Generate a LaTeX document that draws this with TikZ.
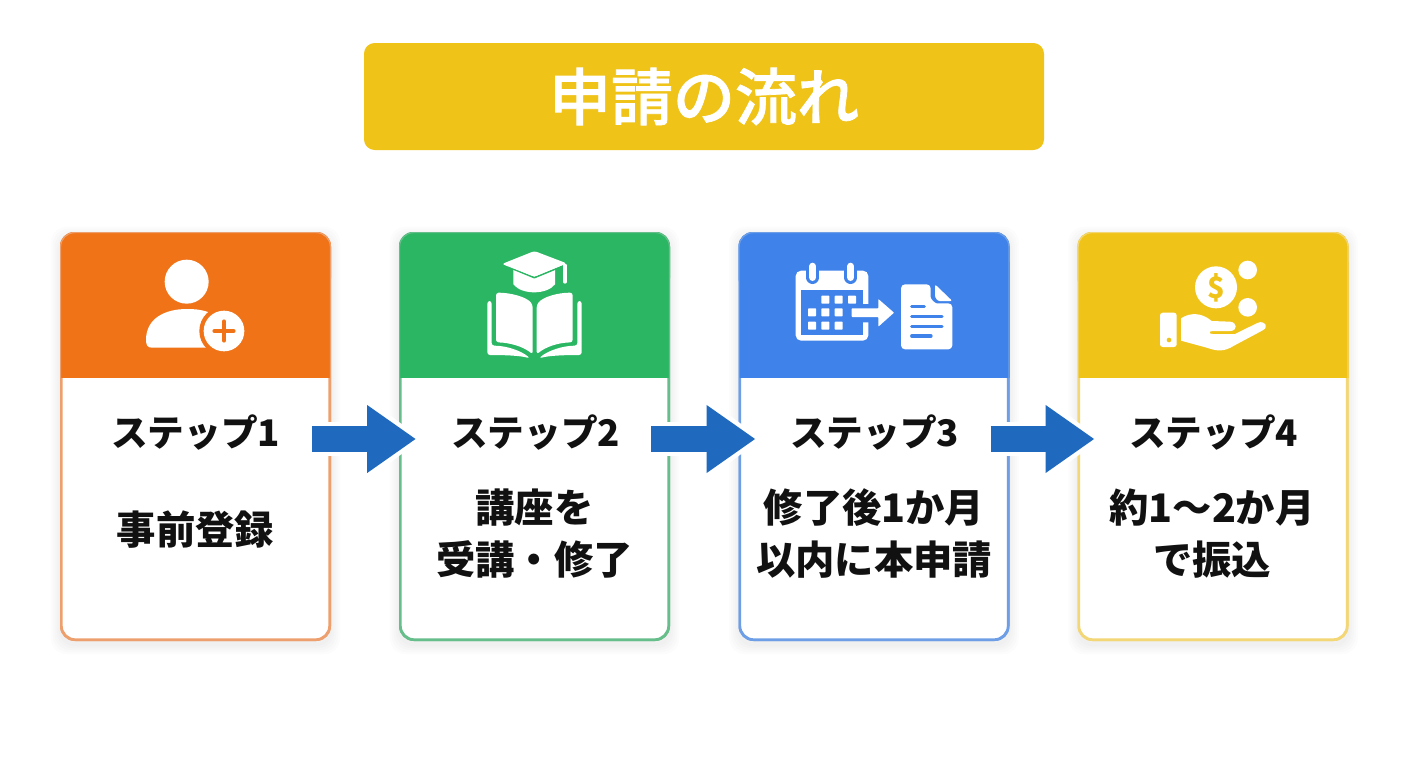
\documentclass[tikz,border=0pt]{standalone}
\usepackage{fontspec}
\setmainfont{Noto Sans CJK JP}
\newfontfamily\titlejp[FakeBold=1.2]{Noto Sans CJK JP Medium}
\usetikzlibrary{arrows.meta,calc}
\definecolor{cOr}{HTML}{F07318}
\definecolor{cGr}{HTML}{2AB663}
\definecolor{cBl}{HTML}{3F83EA}
\definecolor{cYe}{HTML}{F0C319}
\definecolor{bOr}{HTML}{EDA06E}
\definecolor{bGr}{HTML}{66BE8A}
\definecolor{bBl}{HTML}{6E9FE6}
\definecolor{bYe}{HTML}{F3D675}
\definecolor{cAr}{HTML}{1F69BE}
\definecolor{cTx}{HTML}{111111}
\tikzset{
  px/.style={x=0.75pt,y=-0.75pt},
  cardbox/.style={rounded corners=10.5pt,minimum width=201.25pt,minimum height=304.75pt,inner sep=0pt,fill=white,draw=#1,line width=2pt},
  steptext/.style={text=cTx,font=\fontsize{27.5pt}{32pt}\bfseries\selectfont,inner sep=0pt,anchor=center},
  bodytext/.style={text=cTx,font=\fontsize{29.5pt}{39pt}\bfseries\selectfont,inner sep=0pt,anchor=center,align=center},
  halo/.style={draw=white,line width=25.5pt,-{Triangle[length=42pt,width=60pt]}},
  flowarrow/.style={draw=cAr,line width=19.5pt,-{Triangle[length=36.75pt,width=48.5pt]}},
  zoomed/.style={shift={(#1,225)},x=0.25pt,y=-0.25pt},
}
\newcommand{\softshadow}[1]{%
  \foreach \w in {1,3,5,7,9}{
    \fill[black,opacity=0.012,rounded corners=12pt]
      ($(#1.north west)+(-\w,-\w+4)$) rectangle ($(#1.south east)+(\w,\w+4)$);
  }}
\newcommand{\cardhead}[3]{%
  \fill[#2,rounded corners=10.5pt] (#1.north west) -- (#1.north east) -- ($(#1.north east)+(0,60)$) -- ($(#1.north west)+(0,60)$) -- cycle;
  \fill[#2] ($(#1.north west)+(0,30)$) rectangle ($(#1.north east)+(0,146)$);
  \draw[#3,line width=0.9pt,rounded corners=10.5pt] ($(#1.north west)+(0.6,0.6)$) rectangle ($(#1.south east)+(-0.6,-0.6)$);
}
\begin{document}
\begin{tikzpicture}[px]
\useasboundingbox (0,0) rectangle (1408,768);
\fill[white] (0,0) rectangle (1408,768);
% title
\node[fill=cYe,rounded corners=8pt,minimum width=510pt,minimum height=80.25pt,inner sep=0pt,
      text=white,font=\titlejp\fontsize{46.5pt}{50pt}\selectfont] (title) at (704,96.5) {申請の流れ};
% cards
\path (195.5,436.5) coordinate (p1) (534.5,436.5) coordinate (p2) (874,436.5) coordinate (p3) (1213,436.5) coordinate (p4);
\foreach \n in {1,2,3,4}{ \path (p\n) node[minimum width=203.25pt,minimum height=306.75pt,inner sep=0pt] (s\n) {}; \softshadow{s\n} }
\node[cardbox=bOr] (c1) at (p1) {};
\node[cardbox=bGr] (c2) at (p2) {};
\node[cardbox=bBl] (c3) at (p3) {};
\node[cardbox=bYe] (c4) at (p4) {};
\cardhead{c1}{cOr}{bOr}
\cardhead{c2}{cGr}{bGr}
\cardhead{c3}{cBl}{bBl}
\cardhead{c4}{cYe}{bYe}
% card texts
\node[steptext] (t1) at (195.5,433) {ステップ1};
\node[steptext] (t2) at (535.5,433) {ステップ2};
\node[steptext] (t3) at (874.5,433) {ステップ3};
\node[steptext] (t4) at (1213.5,433) {ステップ4};
\node[bodytext] (b1) at (195.5,530) {事前登録};
\node[bodytext] (b2) at (534.5,533.5) {講座を\\受講・修了};
\node[bodytext] (b3) at (874,533.5) {修了後1か月\\以内に本申請};
\node[bodytext] (b4) at (1212,533.5) {約1〜2か月\\で振込};
% connectors
\foreach \a/\b in {1/2,2/3,3/4}{
  \coordinate (from\a) at ($(c\a.east)+(-19,2.5)$);
  \coordinate (to\a) at ($(c\b.west)+(17,2.5)$);
  \draw[halo] (from\a) -- ($(to\a)+(6,0)$);
  \fill[white] ($(from\a)+(0,-17)$) rectangle ($(from\a)+(5,17)$);
  \draw[flowarrow] (from\a) -- (to\a);
}
% icon 1: person with plus
\begin{scope}[zoomed=50]
  \fill[white] (410,170) circle (66);
  \fill[white] (305,368) .. controls (293,368) and (288,360) .. (288,345) .. controls (288,280) and (345,252) .. (410,252) .. controls (440,252) and (460,255) .. (485,265) -- (485,368) -- cycle;
  \fill[cOr] (522,318) circle (74);
  \fill[white] (522,318) circle (61);
  \draw[cOr,line width=3.4pt,line cap=round] (522,290) -- (522,346) (494,318) -- (550,318);
\end{scope}
% icon 2: book with cap
\begin{scope}[zoomed=390]
  \fill[white] (370,128) -- (370,178) .. controls (395,210) and (470,210) .. (495,178) -- (495,128) -- cycle;
  \fill[white,draw=cGr,line width=1.2pt,line join=round] (433,78) -- (533,117) -- (433,158) -- (333,117) -- cycle;
  \fill[white,rounded corners=2pt] (433,78) -- (530,115) -- (433,155) -- (336,117) -- cycle;
  \draw[white,line width=3pt,line cap=round] (525,122) -- (525,170);
  \fill[white,rounded corners=2pt] (318,203) .. controls (360,203) and (410,215) .. (428,240) -- (428,388) .. controls (400,365) and (360,353) .. (318,352) -- cycle;
  \fill[white,rounded corners=2pt] (548,203) .. controls (505,203) and (458,215) .. (440,240) -- (440,388) .. controls (468,365) and (505,353) .. (548,352) -- cycle;
  \fill[white,rounded corners=2pt] (292,228) -- (305,228) -- (305,362) .. controls (350,362) and (395,378) .. (420,400) .. controls (390,392) and (350,390) .. (292,390) -- cycle;
  \fill[white,rounded corners=2pt] (575,228) -- (562,228) -- (562,362) .. controls (517,362) and (472,378) .. (447,400) .. controls (477,392) and (517,390) .. (575,390) -- cycle;
\end{scope}
% icon 3: calendar, arrow, document
\begin{scope}[zoomed=730]
  \fill[white,rounded corners=4pt] (197,137) rectangle (415,347);
  \fill[cBl] (213,195) rectangle (400,330);
  \foreach \xx/\yy in {274/212,314/212,354/212,234/250,274/250,314/250,234/290,274/290,314/290}{
    \fill[white,rounded corners=0.5pt] (\xx,\yy) rectangle ++(24,24);
  }
  \foreach \xx in {248,362}{
    \draw[cBl,line width=9.5pt,line cap=round] (\xx,125) -- (\xx,158);
    \draw[white,line width=5.5pt,line cap=round] (\xx,124) -- (\xx,157);
  }
  \fill[cBl] (352,237) -- (438,237) -- (438,205) -- (505,263) -- (438,322) -- (438,292) -- (352,292) -- cycle;
  \fill[white,rounded corners=0.5pt] (365,250) -- (445,250) -- (445,222) -- (492,263) -- (445,305) -- (445,276) -- (365,276) -- cycle;
  \fill[white,rounded corners=3pt] (513,178) -- (602,178) -- (602,205) .. controls (602,222) and (615,235) .. (632,235) -- (667,235) -- (667,373) -- (513,373) -- cycle;
  \fill[white,rounded corners=1.5pt] (615,178) -- (667,228) -- (635,228) .. controls (622,228) and (615,218) .. (615,205) -- cycle;
  \draw[cBl,line width=2.4pt,line cap=round] (545,245) -- (583,245) (545,275) -- (636,275) (545,304) -- (636,304) (545,333) -- (603,333);
\end{scope}
% icon 4: hand and coins
\begin{scope}[zoomed=1070]
  \fill[white] (438,187) circle (63);
  \node[text=cYe,inner sep=0pt,font=\fontsize{22pt}{22pt}\bfseries\selectfont] (dollar) at (438,187) {\$};
  \fill[white] (533,135) circle (28);
  \fill[white] (533,247) circle (28);
  \fill[white,rounded corners=2pt] (270,263) rectangle (320,366);
  \fill[cYe] (297,345) circle (7);
  \fill[white] (333,280) .. controls (360,262) and (395,262) .. (425,288) -- (480,290)
     .. controls (503,292) and (503,318) .. (480,318) -- (428,318) .. controls (416,318) and (416,327) .. (428,327)
     -- (495,327) -- (562,294) .. controls (585,284) and (598,306) .. (578,316)
     -- (492,362) .. controls (460,382) and (440,378) .. (410,368) -- (333,347) -- cycle;
\end{scope}
\end{tikzpicture}
\end{document}
